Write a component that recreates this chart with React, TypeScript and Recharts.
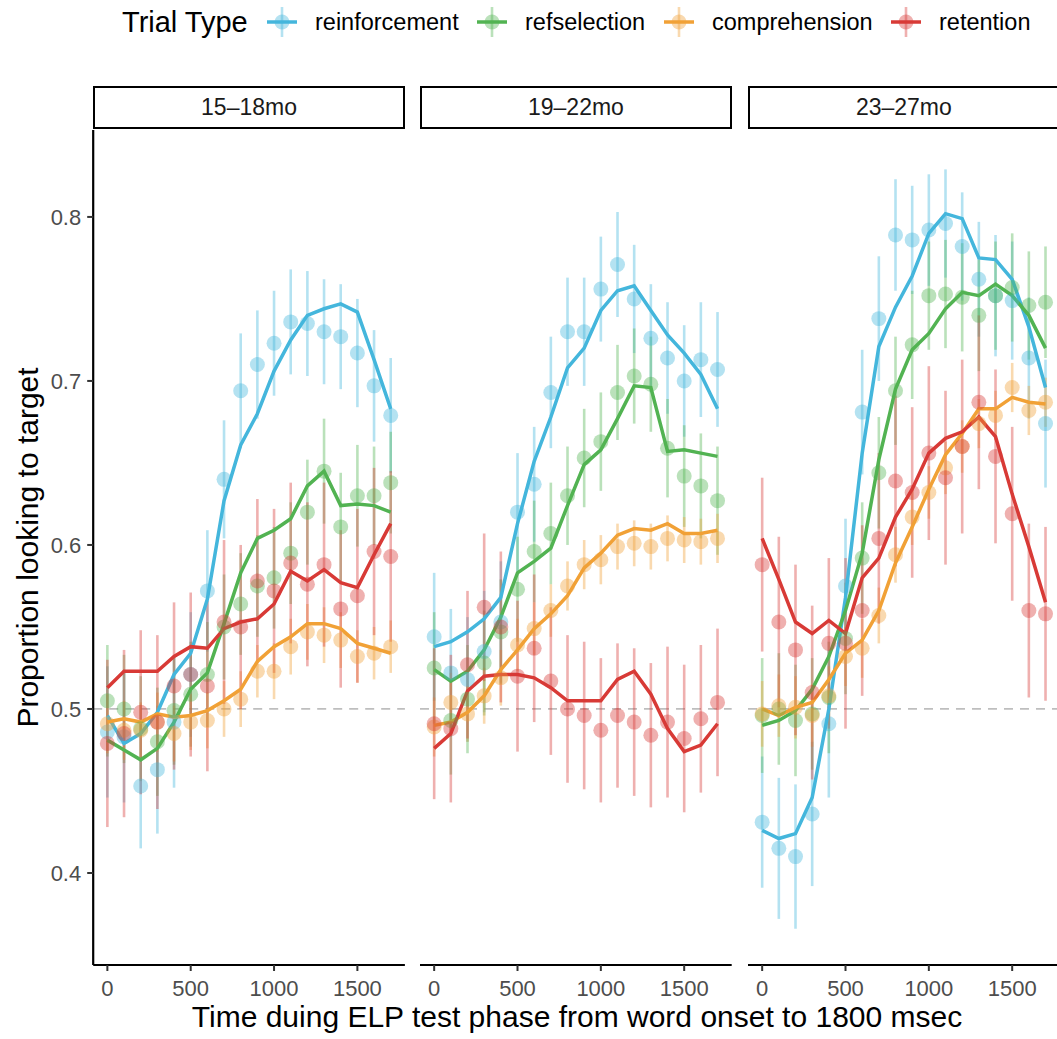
import React from 'react';
import { ComposedChart, Scatter, Line, XAxis, YAxis, ErrorBar, ReferenceLine } from 'recharts';

// Time bins (ms after word onset)
const times = [0, 100, 200, 300, 400, 500, 600, 700, 800, 900, 1000, 1100, 1200, 1300, 1400, 1500, 1600, 1700];

const trialTypes = ['reinforcement', 'refselection', 'comprehension', 'retention'];
const trialColors = ['#44B6DC', '#52B352', '#F1A136', '#D83A36'];
const ageGroups = ['15–18mo', '19–22mo', '23–27mo'];

const xTicks = [0, 500, 1000, 1500];
const yTicks = [0.4, 0.5, 0.6, 0.7, 0.8];

// ---- 15–18mo ----
const young_reinf_mean = [0.486, 0.483, 0.453, 0.463, 0.492, 0.521, 0.572, 0.640, 0.694, 0.710, 0.723, 0.736, 0.735, 0.730, 0.727, 0.717, 0.697, 0.679];
const young_reinf_se = [0.040, 0.040, 0.038, 0.039, 0.040, 0.038, 0.037, 0.036, 0.035, 0.033, 0.032, 0.032, 0.032, 0.032, 0.032, 0.033, 0.034, 0.035];
const young_reinf_fit = [0.496, 0.479, 0.485, 0.498, 0.521, 0.534, 0.567, 0.627, 0.661, 0.680, 0.706, 0.725, 0.740, 0.744, 0.747, 0.742, 0.713, 0.683];

const young_ref_mean = [0.505, 0.500, 0.488, 0.480, 0.499, 0.509, 0.521, 0.550, 0.564, 0.575, 0.580, 0.595, 0.620, 0.645, 0.611, 0.630, 0.630, 0.638];
const young_ref_se = [0.034, 0.033, 0.032, 0.033, 0.033, 0.032, 0.032, 0.032, 0.031, 0.031, 0.031, 0.031, 0.032, 0.032, 0.033, 0.031, 0.030, 0.031];
const young_ref_fit = [0.481, 0.475, 0.469, 0.476, 0.492, 0.512, 0.522, 0.552, 0.583, 0.604, 0.609, 0.616, 0.636, 0.645, 0.624, 0.625, 0.624, 0.620];

const young_comp_mean = [0.491, 0.487, 0.487, 0.492, 0.485, 0.492, 0.493, 0.500, 0.506, 0.523, 0.523, 0.538, 0.547, 0.545, 0.542, 0.532, 0.534, 0.538];
const young_comp_se = [0.018, 0.018, 0.017, 0.018, 0.017, 0.017, 0.017, 0.017, 0.017, 0.016, 0.017, 0.017, 0.017, 0.017, 0.017, 0.016, 0.016, 0.016];
const young_comp_fit = [0.492, 0.494, 0.492, 0.497, 0.495, 0.496, 0.499, 0.505, 0.512, 0.529, 0.538, 0.544, 0.552, 0.552, 0.549, 0.540, 0.537, 0.534];

const young_ret_mean = [0.479, 0.485, 0.498, 0.492, 0.514, 0.521, 0.514, 0.553, 0.550, 0.578, 0.572, 0.589, 0.576, 0.588, 0.561, 0.569, 0.596, 0.593];
const young_ret_se = [0.051, 0.051, 0.050, 0.053, 0.051, 0.050, 0.052, 0.050, 0.050, 0.050, 0.050, 0.049, 0.050, 0.050, 0.048, 0.053, 0.051, 0.052];
const young_ret_fit = [0.513, 0.523, 0.523, 0.523, 0.532, 0.538, 0.537, 0.549, 0.553, 0.555, 0.564, 0.584, 0.578, 0.585, 0.577, 0.574, 0.594, 0.613];

// ---- 19–22mo ----
const mid_reinf_mean = [0.544, 0.522, 0.518, 0.535, 0.553, 0.620, 0.637, 0.693, 0.730, 0.730, 0.756, 0.771, 0.750, 0.726, 0.714, 0.700, 0.713, 0.707];
const mid_reinf_se = [0.039, 0.039, 0.038, 0.037, 0.037, 0.036, 0.035, 0.034, 0.033, 0.033, 0.032, 0.032, 0.033, 0.033, 0.034, 0.034, 0.035, 0.035];
const mid_reinf_fit = [0.538, 0.541, 0.547, 0.555, 0.568, 0.613, 0.651, 0.678, 0.708, 0.720, 0.743, 0.755, 0.758, 0.743, 0.728, 0.717, 0.704, 0.683];

const mid_ref_mean = [0.525, 0.493, 0.506, 0.528, 0.547, 0.573, 0.596, 0.607, 0.630, 0.653, 0.663, 0.693, 0.703, 0.698, 0.659, 0.642, 0.636, 0.627];
const mid_ref_se = [0.034, 0.033, 0.033, 0.032, 0.032, 0.032, 0.031, 0.031, 0.030, 0.030, 0.030, 0.029, 0.029, 0.029, 0.030, 0.031, 0.032, 0.033];
const mid_ref_fit = [0.524, 0.517, 0.523, 0.536, 0.556, 0.583, 0.590, 0.598, 0.624, 0.649, 0.658, 0.677, 0.697, 0.696, 0.657, 0.658, 0.656, 0.654];

const mid_comp_mean = [0.489, 0.504, 0.497, 0.508, 0.519, 0.539, 0.549, 0.560, 0.575, 0.588, 0.591, 0.599, 0.601, 0.599, 0.604, 0.603, 0.602, 0.604];
const mid_comp_se = [0.018, 0.018, 0.017, 0.017, 0.017, 0.016, 0.016, 0.016, 0.015, 0.015, 0.015, 0.014, 0.014, 0.014, 0.014, 0.014, 0.014, 0.015];
const mid_comp_fit = [0.490, 0.492, 0.498, 0.508, 0.524, 0.536, 0.549, 0.558, 0.569, 0.586, 0.595, 0.606, 0.610, 0.609, 0.613, 0.607, 0.607, 0.609];

const mid_ret_mean = [0.491, 0.488, 0.527, 0.562, 0.550, 0.520, 0.537, 0.517, 0.500, 0.496, 0.487, 0.496, 0.492, 0.484, 0.492, 0.482, 0.494, 0.504];
const mid_ret_se = [0.046, 0.045, 0.045, 0.045, 0.046, 0.046, 0.045, 0.045, 0.045, 0.045, 0.044, 0.044, 0.045, 0.044, 0.046, 0.045, 0.045, 0.045];
const mid_ret_fit = [0.476, 0.485, 0.511, 0.520, 0.521, 0.521, 0.519, 0.513, 0.505, 0.505, 0.505, 0.518, 0.523, 0.509, 0.488, 0.474, 0.478, 0.491];

// ---- 23–27mo ----
const old_reinf_mean = [0.431, 0.415, 0.410, 0.436, 0.491, 0.575, 0.681, 0.738, 0.789, 0.786, 0.792, 0.796, 0.782, 0.762, 0.752, 0.749, 0.714, 0.674];
const old_reinf_se = [0.040, 0.043, 0.044, 0.044, 0.045, 0.041, 0.038, 0.038, 0.034, 0.033, 0.034, 0.033, 0.033, 0.035, 0.037, 0.036, 0.037, 0.039];
const old_reinf_fit = [0.426, 0.421, 0.424, 0.446, 0.500, 0.568, 0.656, 0.721, 0.745, 0.764, 0.790, 0.802, 0.799, 0.775, 0.774, 0.762, 0.733, 0.696];

const old_ref_mean = [0.496, 0.500, 0.493, 0.497, 0.507, 0.543, 0.592, 0.644, 0.694, 0.722, 0.752, 0.753, 0.751, 0.740, 0.752, 0.757, 0.746, 0.748];
const old_ref_se = [0.035, 0.034, 0.034, 0.034, 0.034, 0.034, 0.034, 0.034, 0.033, 0.033, 0.033, 0.033, 0.033, 0.034, 0.033, 0.033, 0.033, 0.034];
const old_ref_fit = [0.490, 0.493, 0.499, 0.512, 0.532, 0.560, 0.595, 0.652, 0.695, 0.719, 0.729, 0.744, 0.754, 0.752, 0.759, 0.752, 0.740, 0.720];

const old_comp_mean = [0.497, 0.502, 0.501, 0.496, 0.508, 0.532, 0.537, 0.557, 0.594, 0.617, 0.632, 0.647, 0.660, 0.674, 0.679, 0.696, 0.682, 0.687];
const old_comp_se = [0.020, 0.019, 0.019, 0.019, 0.018, 0.018, 0.018, 0.017, 0.017, 0.017, 0.016, 0.016, 0.016, 0.015, 0.015, 0.015, 0.015, 0.015];
const old_comp_fit = [0.500, 0.496, 0.501, 0.504, 0.518, 0.534, 0.542, 0.560, 0.589, 0.611, 0.634, 0.655, 0.668, 0.683, 0.683, 0.690, 0.687, 0.686];

const old_ret_mean = [0.588, 0.553, 0.536, 0.510, 0.540, 0.540, 0.560, 0.604, 0.639, 0.632, 0.656, 0.641, 0.660, 0.687, 0.654, 0.619, 0.560, 0.558];
const old_ret_se = [0.053, 0.052, 0.052, 0.053, 0.052, 0.052, 0.052, 0.052, 0.052, 0.052, 0.053, 0.053, 0.053, 0.053, 0.053, 0.053, 0.053, 0.053];
const old_ret_fit = [0.604, 0.579, 0.553, 0.546, 0.554, 0.546, 0.580, 0.592, 0.617, 0.634, 0.656, 0.665, 0.669, 0.678, 0.666, 0.631, 0.599, 0.565];

// [panel][trial type] -> arrays
const panelMeans = [
  [young_reinf_mean, young_ref_mean, young_comp_mean, young_ret_mean],
  [mid_reinf_mean, mid_ref_mean, mid_comp_mean, mid_ret_mean],
  [old_reinf_mean, old_ref_mean, old_comp_mean, old_ret_mean],
];
const panelSEs = [
  [young_reinf_se, young_ref_se, young_comp_se, young_ret_se],
  [mid_reinf_se, mid_ref_se, mid_comp_se, mid_ret_se],
  [old_reinf_se, old_ref_se, old_comp_se, old_ret_se],
];
const panelFits = [
  [young_reinf_fit, young_ref_fit, young_comp_fit, young_ret_fit],
  [mid_reinf_fit, mid_ref_fit, mid_comp_fit, mid_ret_fit],
  [old_reinf_fit, old_ref_fit, old_comp_fit, old_ret_fit],
];

const FONT = '"Liberation Sans", Arial, Helvetica, sans-serif';
const W = 1057;
const H = 1039;
const PLOT_TOP = 130;
const PLOT_BOTTOM = 965;
const PANEL_W = 311.7;
const PANEL_LEFTS = [93.2, 420.1, 748.0];
const Y_DOMAIN: [number, number] = [0.3439, 0.8530];
const X_DOMAIN: [number, number] = [-85, 1785];

// legend label start positions; keys sit a fixed distance to their left
const legendTextX = [315, 525, 712, 939];

function hexToRgba(hex: string, a: number) {
  const n = parseInt(hex.slice(1), 16);
  return `rgba(${(n >> 16) & 255}, ${(n >> 8) & 255}, ${n & 255}, ${a})`;
}

function buildRows(p: number) {
  return times.map((t, i) => {
    const row: Record<string, number> = { t };
    trialTypes.forEach((_, s) => {
      row[`m${s}`] = panelMeans[p][s][i];
      row[`e${s}`] = panelSEs[p][s][i];
      row[`f${s}`] = panelFits[p][s][i];
    });
    return row;
  });
}

function Panel({ index }: { index: number }) {
  const first = index === 0;
  const innerLeft = first ? 0 : 10;
  const yAxisW = first ? PANEL_LEFTS[0] : 0;
  const chartLeft = first ? 0 : PANEL_LEFTS[index] - innerLeft;
  const mRight = 6;
  const width = (first ? yAxisW : innerLeft) + PANEL_W + mRight;
  const rows = buildRows(index);

  return (
    <div style={{ position: 'absolute', left: chartLeft, top: 0 }}>
      <ComposedChart
        width={width}
        height={H}
        data={rows}
        margin={{ top: PLOT_TOP, right: mRight, bottom: 0, left: innerLeft }}
      >
        <XAxis
          dataKey="t"
          type="number"
          domain={X_DOMAIN}
          allowDataOverflow
          ticks={xTicks}
          interval={0}
          height={H - PLOT_BOTTOM}
          axisLine={{ stroke: '#000000', strokeWidth: 2.2 }}
          tickLine={{ stroke: '#333333', strokeWidth: 2 }}
          tickSize={6}
          tickMargin={9}
          tick={{ fill: '#4D4D4D', fontSize: 22, fontFamily: FONT }}
        />
        <YAxis
          type="number"
          domain={Y_DOMAIN}
          allowDataOverflow
          ticks={yTicks}
          interval={0}
          hide={!first}
          width={yAxisW}
          tickFormatter={(v: number) => v.toFixed(1)}
          axisLine={{ stroke: '#000000', strokeWidth: 2.2 }}
          tickLine={{ stroke: '#333333', strokeWidth: 2 }}
          tickSize={6}
          tickMargin={6}
          tick={{ fill: '#4D4D4D', fontSize: 22, fontFamily: FONT }}
        />
        <ReferenceLine y={0.5} stroke="#BEBEBE" strokeWidth={1.8} strokeDasharray="9 7" />
        {trialTypes.map((name, s) => (
          <Scatter
            key={`pts-${name}`}
            name={name}
            dataKey={`m${s}`}
            isAnimationActive={false}
            shape={(props: any) => (
              <circle cx={props.cx} cy={props.cy} r={7.5} fill={hexToRgba(trialColors[s], 0.4)} />
            )}
          >
            <ErrorBar
              dataKey={`e${s}`}
              direction="y"
              width={0}
              stroke={hexToRgba(trialColors[s], 0.4)}
              strokeWidth={2.6}
              isAnimationActive={false}
            />
          </Scatter>
        ))}
        {trialTypes.map((name, s) => (
          <Line
            key={`fit-${name}`}
            name={name}
            dataKey={`f${s}`}
            type="linear"
            stroke={trialColors[s]}
            strokeWidth={3.5}
            dot={false}
            activeDot={false}
            isAnimationActive={false}
          />
        ))}
      </ComposedChart>
    </div>
  );
}

function Strip({ index }: { index: number }) {
  return (
    <div
      style={{
        position: 'absolute',
        left: PANEL_LEFTS[index],
        top: 86,
        width: PANEL_W,
        height: 43,
        boxSizing: 'border-box',
        border: '2.6px solid #000000',
        display: 'flex',
        alignItems: 'center',
        justifyContent: 'center',
        fontFamily: FONT,
        fontSize: 23,
        color: '#1A1A1A',
        background: '#FFFFFF',
      }}
    >
      {ageGroups[index]}
    </div>
  );
}

function Legend() {
  return (
    <svg width={W} height={50} style={{ position: 'absolute', left: 0, top: 0 }}>
      <text x={122} y={32} fontFamily={FONT} fontSize={29} fill="#000000">
        Trial Type
      </text>
      {trialTypes.map((name, s) => {
        const tx = legendTextX[s];
        const cx = tx - 33;
        return (
          <g key={name}>
            <line x1={cx} x2={cx} y1={7} y2={37} stroke={hexToRgba(trialColors[s], 0.4)} strokeWidth={2.6} />
            <circle cx={cx} cy={22} r={7.5} fill={hexToRgba(trialColors[s], 0.4)} />
            <line x1={cx - 15} x2={cx + 15} y1={22} y2={22} stroke={trialColors[s]} strokeWidth={3.5} />
            <text x={tx} y={30} fontFamily={FONT} fontSize={23.5} fill="#000000">
              {name}
            </text>
          </g>
        );
      })}
    </svg>
  );
}

export default function App() {
  const midY = (PLOT_TOP + PLOT_BOTTOM) / 2;
  return (
    <div
      style={{
        position: 'absolute',
        left: 0,
        top: 0,
        width: W,
        height: H,
        overflow: 'hidden',
        background: '#FFFFFF',
        fontFamily: FONT,
      }}
    >
      <Legend />
      {ageGroups.map((g, i) => (
        <Panel key={`panel-${g}`} index={i} />
      ))}
      {ageGroups.map((g, i) => (
        <Strip key={`strip-${g}`} index={i} />
      ))}
      <svg width={W} height={H} style={{ position: 'absolute', left: 0, top: 0, pointerEvents: 'none' }}>
        <text
          x={27}
          y={midY}
          transform={`rotate(-90 27 ${midY})`}
          textAnchor="middle"
          dominantBaseline="central"
          fontFamily={FONT}
          fontSize={30}
          fill="#000000"
        >
          Proportion looking to target
        </text>
        <text
          x={577}
          y={1027}
          textAnchor="middle"
          fontFamily={FONT}
          fontSize={30}
          fill="#000000"
        >
          Time duing ELP test phase from word onset to 1800 msec
        </text>
      </svg>
    </div>
  );
}
